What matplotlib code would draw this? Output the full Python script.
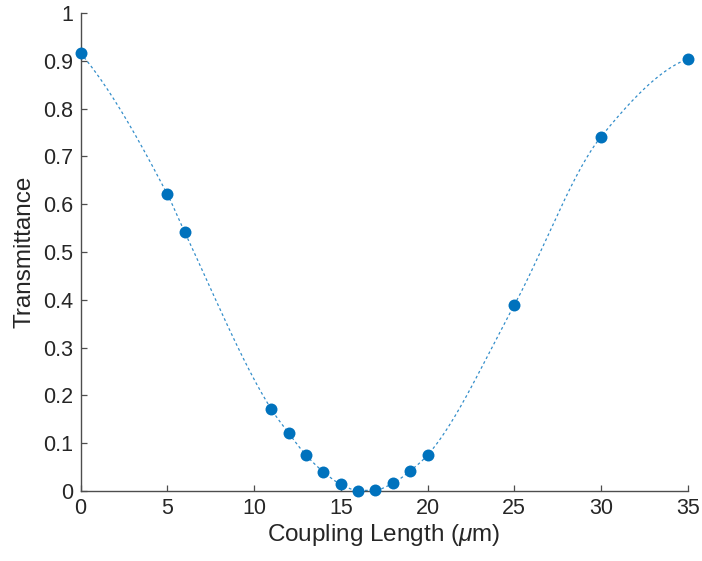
import numpy as np
import matplotlib
matplotlib.use("Agg")
import matplotlib.pyplot as plt

# Measured transmittance versus coupling length
coupling_length = [0, 5, 6, 11, 12, 13, 14, 15, 16, 17, 18, 19, 20, 25, 30, 35]
transmittance = [0.916, 0.621, 0.542, 0.171, 0.121, 0.075, 0.040, 0.014,
                 0.001, 0.002, 0.016, 0.042, 0.075, 0.389, 0.741, 0.904]

x_ticks = [0, 5, 10, 15, 20, 25, 30, 35]
y_ticks = [0, 0.1, 0.2, 0.3, 0.4, 0.5, 0.6, 0.7, 0.8, 0.9, 1]
y_tick_labels = ["0", "0.1", "0.2", "0.3", "0.4", "0.5", "0.6", "0.7", "0.8", "0.9", "1"]


def _end_slope(h0, h1, d0, d1):
    s = ((2 * h0 + h1) * d0 - h0 * d1) / (h0 + h1)
    if np.sign(s) != np.sign(d0):
        return 0.0
    if np.sign(d0) != np.sign(d1) and abs(s) > abs(3 * d0):
        return 3 * d0
    return s


def pchip(x, y, xq):
    """Shape-preserving piecewise cubic Hermite interpolation."""
    x = np.asarray(x, float)
    y = np.asarray(y, float)
    n = len(x)
    h = np.diff(x)
    delta = np.diff(y) / h
    d = np.zeros(n)
    for k in range(1, n - 1):
        if delta[k - 1] * delta[k] > 0:
            w1 = 2 * h[k] + h[k - 1]
            w2 = h[k] + 2 * h[k - 1]
            d[k] = (w1 + w2) / (w1 / delta[k - 1] + w2 / delta[k])
    d[0] = _end_slope(h[0], h[1], delta[0], delta[1])
    d[-1] = _end_slope(h[-1], h[-2], delta[-1], delta[-2])
    idx = np.clip(np.searchsorted(x, xq) - 1, 0, n - 2)
    hh = h[idx]
    t = (xq - x[idx]) / hh
    h00 = 2 * t**3 - 3 * t**2 + 1
    h10 = t**3 - 2 * t**2 + t
    h01 = -2 * t**3 + 3 * t**2
    h11 = t**3 - t**2
    return h00 * y[idx] + h10 * hh * d[idx] + h01 * y[idx + 1] + h11 * hh * d[idx + 1]


L_fit = np.linspace(0, 35, 700)
T_fit = pchip(coupling_length, transmittance, L_fit)

plt.rcParams["font.family"] = ["Liberation Sans", "DejaVu Sans"]
plt.rcParams["mathtext.fontset"] = "custom"
plt.rcParams["mathtext.it"] = "Liberation Sans:italic"
plt.rcParams["mathtext.rm"] = "Liberation Sans"

fig = plt.figure(figsize=(7.02, 5.61), dpi=100)
ax = fig.add_axes([0.1147, 0.1248, 0.865, 0.852])

blue = "#0072BD"
ax.plot(L_fit, T_fit, color=blue, lw=0.9, dashes=(2.2, 2.2), alpha=0.8, zorder=2)
ax.plot(coupling_length, transmittance, "o", color=blue, markersize=8.6,
        markeredgewidth=0, zorder=3, clip_on=False)

ax.set_xlim(0, 35)
ax.set_ylim(0, 1)
ax.set_xticks(x_ticks)
ax.set_yticks(y_ticks)
ax.set_yticklabels(y_tick_labels)

for s in ("top", "right"):
    ax.spines[s].set_visible(False)
for s in ("left", "bottom"):
    ax.spines[s].set_color("#4d4d4d")
    ax.spines[s].set_linewidth(1.0)

ax.tick_params(direction="in", length=4.5, width=0.9, color="#4d4d4d",
               labelsize=15.5, labelcolor="#262626", pad=5)

ax.set_xlabel(r"Coupling Length ($\mu$m)", fontsize=17.5, color="#262626", labelpad=2)
ax.set_ylabel("Transmittance", fontsize=17.5, color="#262626", labelpad=6)

fig.savefig("out.png", dpi=100)
